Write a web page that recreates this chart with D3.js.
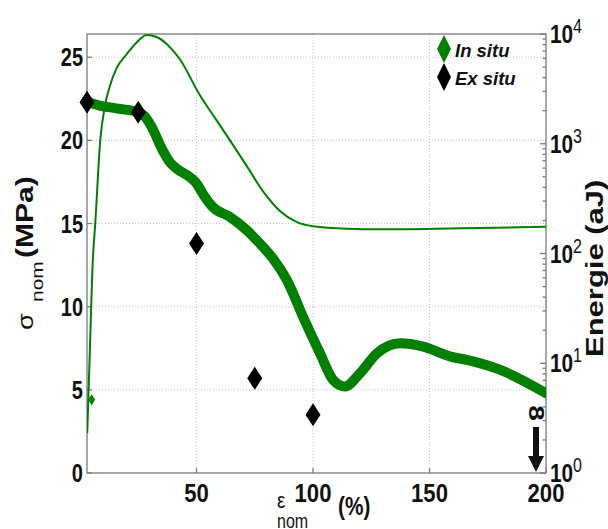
<!DOCTYPE html>
<html><head><meta charset="utf-8">
<script src="https://cdn.jsdelivr.net/npm/d3@7"></script>
<style>body{margin:0;background:#fff} svg{display:block}</style>
</head><body><svg id="c" width="608" height="529"></svg>
<script>
// ---- data ----
const strainTicks = [50, 100, 150, 200];
const sigmaTicks = [0, 5, 10, 15, 20, 25];
const energyTicks = [1, 10, 100, 1000, 10000];
const energyExp = ["0", "1", "2", "3", "4"];

const inSituStrain = [3, 8.4, 17, 24.8, 27.8, 30.8, 35.5, 38.5, 41.5, 47.1, 50.1, 52.7, 57, 64.3, 71.6, 78.5, 82.8, 88.8, 95.7, 103, 108.6, 113.7, 120.2, 127.5, 137.4, 147.3, 159, 166, 180.4, 200];
const inSituSigma  = [22.3, 22.1, 21.9, 21.7, 21.45, 20.8, 19.4, 18.7, 18.3, 17.8, 17.4, 16.8, 16.0, 15.4, 14.6, 13.6, 12.9, 11.6, 9.4, 7.2, 5.6, 5.2, 6.0, 7.2, 7.8, 7.6, 7.0, 6.8, 6.2, 4.8];
const inSituMarkerStrain = [5];
const inSituMarkerSigma = [4.4];

const exSituStrain = [3, 25, 50, 75, 100];
const exSituSigma  = [22.3, 21.7, 13.8, 5.7, 3.5];

const energyStrain = [3.1, 4.1, 5.5, 6.5, 8.7, 10.6, 12.7, 15.7, 20.0, 24.3, 28.6, 32.9, 37.2, 42.8, 51.4, 57.9, 64.3, 71.6, 78.5, 85.8, 93.1, 100, 114.6, 128.8, 163.2, 200];
const energyValue  = [2.3, 10.7, 87, 182, 1082, 2150, 3290, 4880, 6540, 8380, 9790, 9390, 8120, 5920, 2780, 1720, 1080, 625, 370, 244, 193, 177, 168, 166, 170, 175];

const legendLabels = ["In situ", "Ex situ"];
const legendColors = ["#008000", "#000000"];

// ---- layout ----
const svg = d3.select("#c");
const L = 87, R = 546, T = 34, B = 473;
const x = d3.scaleLinear().domain([3, 200]).range([L, R]);
const y = d3.scaleLinear().domain([0, 26.4]).range([B, T]);
const yE = d3.scaleLog().domain([1, 10000]).range([B, T]);
const GREEN = "#008000";
const FONT = "'Liberation Sans', Arial, Helvetica, sans-serif";

svg.append("defs").append("clipPath").attr("id", "clip")
  .append("rect").attr("x", L).attr("y", T).attr("width", R - L).attr("height", B - T);

// grid
const grid = svg.append("g").attr("stroke", "#c4c4c4").attr("stroke-width", 1).attr("stroke-dasharray", "1,2");
grid.selectAll("line.v").data(strainTicks.filter(d => d < 200)).join("line")
  .attr("x1", d => x(d)).attr("x2", d => x(d)).attr("y1", T).attr("y2", B);
grid.selectAll("line.h").data(sigmaTicks.filter(d => d > 0)).join("line")
  .attr("x1", L).attr("x2", R).attr("y1", d => y(d)).attr("y2", d => y(d));

// axes frame & ticks
const axisG = svg.append("g").attr("stroke", "#7a7a7a").attr("stroke-width", 1.3).attr("fill", "none");
axisG.append("rect").attr("x", L).attr("y", T).attr("width", R - L).attr("height", B - T);
axisG.selectAll("line.xt").data(strainTicks).join("line")
  .attr("x1", d => x(d)).attr("x2", d => x(d)).attr("y1", B).attr("y2", B - 5);
axisG.selectAll("line.yt").data(sigmaTicks).join("line")
  .attr("x1", L).attr("x2", L + 5).attr("y1", d => y(d)).attr("y2", d => y(d));
const minor = [];
for (let e = 0; e < 4; e++) for (let k = 2; k <= 9; k++) minor.push(k * Math.pow(10, e));
axisG.selectAll("line.em").data(minor).join("line")
  .attr("x1", R).attr("x2", R - 3.5).attr("y1", d => yE(d)).attr("y2", d => yE(d));
axisG.selectAll("line.eM").data(energyTicks).join("line")
  .attr("x1", R).attr("x2", R - 6).attr("y1", d => yE(d)).attr("y2", d => yE(d));

// tick labels
const lab = svg.append("g").attr("font-family", FONT).attr("font-weight", "bold").attr("fill", "#111");
sigmaTicks.forEach(d => {
  lab.append("g").attr("transform", `translate(83,${y(d) + 9}) scale(0.8,1)`)
    .append("text").attr("text-anchor", "end").attr("font-size", 25).text(d);
});
strainTicks.forEach(d => {
  lab.append("g").attr("transform", `translate(${x(d)},502) scale(0.85,1)`)
    .append("text").attr("text-anchor", "middle").attr("font-size", 26).text(d);
});
energyTicks.forEach((d, i) => {
  lab.append("g").attr("transform", `translate(550,${yE(d) + 9}) scale(0.83,1)`)
    .append("text").attr("font-size", 25).text("10");
  lab.append("g").attr("transform", `translate(573,${yE(d) - 1}) scale(0.8,1)`)
    .append("text").attr("font-size", 20).attr("font-weight", "normal").text(energyExp[i]);
});

// data lines
const plot = svg.append("g").attr("clip-path", "url(#clip)");
const energyLine = d3.line().x(d => x(d[0])).y(d => yE(d[1])).curve(d3.curveMonotoneX);
const sigmaLine = d3.line().x(d => x(d[0])).y(d => y(d[1])).curve(d3.curveMonotoneX);

plot.append("path").datum(inSituStrain.map((s, i) => [s, inSituSigma[i]]))
  .attr("d", sigmaLine).attr("fill", "none").attr("stroke", GREEN).attr("stroke-width", 10)
  .attr("stroke-linejoin", "round").attr("stroke-linecap", "round");
plot.append("path").datum(energyStrain.map((s, i) => [s, energyValue[i]]))
  .attr("d", energyLine).attr("fill", "none").attr("stroke", GREEN).attr("stroke-width", 2);

function diamond(w, h) { return `M0,${-h/2}L${w/2},0L0,${h/2}L${-w/2},0Z`; }
svg.append("g").selectAll("path").data(inSituMarkerStrain.map((s, i) => [s, inSituMarkerSigma[i]])).join("path")
  .attr("transform", d => `translate(${x(d[0])},${y(d[1])})`).attr("d", diamond(7, 11)).attr("fill", GREEN);
svg.append("g").selectAll("path").data(exSituStrain.map((s, i) => [s, exSituSigma[i]])).join("path")
  .attr("transform", d => `translate(${x(d[0])},${y(d[1])})`).attr("d", diamond(15, 23)).attr("fill", "#000");

// legend
const leg = svg.append("g");
legendLabels.forEach((t, i) => {
  const cy = 49 + i * 28;
  leg.append("path").attr("transform", `translate(444,${cy})`).attr("d", diamond(14, 28)).attr("fill", legendColors[i]);
  leg.append("text").attr("x", 455).attr("y", cy + 8).attr("font-family", FONT).attr("font-weight", "bold")
    .attr("font-style", "italic").attr("font-size", 18.5).attr("fill", "#111").text(t);
});

// left axis title
const lt = svg.append("g").attr("transform", "translate(33,330) rotate(-90) scale(1,0.8)").attr("font-family", FONT).attr("fill", "#111");
lt.append("text").attr("x", 0).attr("y", 0).attr("font-size", 27).text("σ");
lt.append("text").attr("x", 28).attr("y", 12.5).attr("font-size", 21).text("nom");
lt.append("text").attr("x", 72).attr("y", 0).attr("font-size", 30).attr("font-weight", "bold").text("(MPa)");

// right axis title
svg.append("g").attr("transform", "translate(603,357) rotate(-90) scale(1,0.8)")
  .append("text").attr("font-family", FONT).attr("font-weight", "bold").attr("font-size", 31).attr("fill", "#111")
  .text("Energie (aJ)");

// x axis title
const xt = svg.append("g").attr("font-family", FONT).attr("fill", "#111");
xt.append("g").attr("transform", "translate(277,508) scale(0.85,1)").append("text").attr("font-size", 22).text("ε");
xt.append("g").attr("transform", "translate(277,528) scale(0.8,1)").append("text").attr("font-size", 20).text("nom");
xt.append("g").attr("transform", "translate(338,515) scale(0.8,1)").append("text").attr("font-size", 26).attr("font-weight", "bold").text("(%)");

// infinity + arrow annotation
svg.append("g").attr("transform", "translate(537,413) rotate(90) scale(1,0.8)")
  .append("text").attr("text-anchor", "middle").attr("font-family", FONT).attr("font-weight", "bold")
  .attr("font-size", 28).attr("dy", "0.36em").attr("fill", "#111").text("8");
svg.append("line").attr("x1", 536).attr("x2", 536).attr("y1", 427).attr("y2", 459)
  .attr("stroke", "#111").attr("stroke-width", 6);
svg.append("path").attr("d", "M528,456L544,456L536,472Z").attr("fill", "#111");
</script>
</body></html>
